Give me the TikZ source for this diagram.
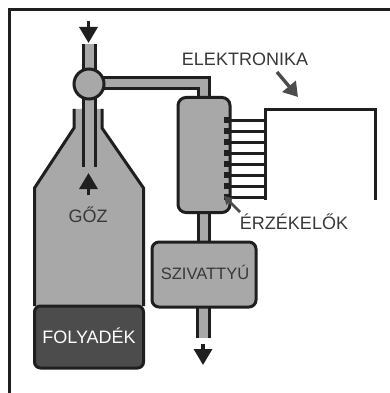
\documentclass[tikz,border=0pt]{standalone}
\usepackage{fontspec}
\setmainfont{Liberation Sans}
\usetikzlibrary{arrows.meta}
\definecolor{fillg}{gray}{0.66}
\definecolor{liq}{gray}{0.30}
\definecolor{ink}{gray}{0.12}
\definecolor{txt}{gray}{0.22}
\tikzset{
  wall/.style={draw=ink,line width=3pt},
  gfill/.style={fill=fillg,draw=none},
  bigarrow/.style={draw=ink,line width=3.4pt,-{Triangle[width=18pt,length=16pt]}},
  lblarrow/.style={draw=liq,line width=3.4pt,-{Triangle[width=17pt,length=14pt]}},
  thinarrow/.style={draw=liq,line width=2.8pt,-{Triangle[width=9pt,length=8pt]}},
  lbl/.style={text=txt,font=\fontsize{18pt}{19pt}\selectfont,inner sep=0pt},
}
\begin{document}
\begin{tikzpicture}[x=1pt,y=-1pt]
\useasboundingbox (0,0) rectangle (390,393);
\fill[white] (0,0) rectangle (390,393);
% frame
\coordinate (fb) at (9,393);
\coordinate (ft) at (9,10);
\coordinate (fr) at (390,10);
\draw[ink,line width=3pt] (fb) -- (ft) -- (fr);
% flask
\path[gfill] (74,109) -- (102,109) -- (102,128) -- (143.5,188) -- (143.5,306) -- (34.5,306) -- (34.5,188) -- (74,128) -- cycle;
\draw[wall] (74,109) -- (74,128) -- (34.5,188) -- (34.5,306);
\draw[wall] (102,109) -- (102,128) -- (143.5,188) -- (143.5,306);
% liquid
\node[draw=ink,line width=3pt,fill=liq,rounded corners=6pt,minimum width=109pt,minimum height=62pt,inner sep=0pt] (liquid) at (89,337) {};
\node[text=white,font=\fontsize{18pt}{19pt}\selectfont,inner sep=0pt] (folyadek) at (89,336) {FOLYADÉK};
\node[lbl] (goz) at (88,215) {GŐZ};
% pipes
\path[gfill] (83,44) rectangle (95,70);
\draw[wall] (83,44) -- (83,70) (95,44) -- (95,70);
\path[gfill] (83,95) rectangle (95,167);
\draw[wall] (83,95) -- (83,167) (95,95) -- (95,167);
\path[gfill] (100,78) -| (209,100) -- (198,100) |- (100,89) -- cycle;
\draw[wall] (100,78) -| (209,100);
\draw[wall] (100,89) -| (198,100);
\node[draw=ink,line width=3pt,fill=fillg,circle,minimum size=30pt,inner sep=0pt] (valve) at (89,84) {};
% column
\path[gfill] (198,210) rectangle (209,245);
\draw[wall] (198,210) -- (198,245) (209,210) -- (209,245);
\node[draw=ink,line width=3pt,fill=fillg,rounded corners=8pt,minimum width=52pt,minimum height=115pt,inner sep=0pt] (column) at (204,155) {};
% pump
\path[gfill] (197,305) rectangle (209,338);
\draw[wall] (197,305) -- (197,338) (209,305) -- (209,338);
\node[draw=ink,line width=3pt,fill=fillg,rounded corners=7pt,minimum width=104pt,minimum height=65pt,inner sep=0pt] (pump) at (204,274.5) {};
\node[lbl,font=\fontsize{16.5pt}{17pt}\selectfont] (szivattyu) at (205,272) {SZIVATTYÚ};
% arrows
\coordinate (inA) at (88.5,21);
\coordinate (inB) at (88.5,43);
\coordinate (upA) at (88.5,195);
\coordinate (upB) at (88.5,173);
\coordinate (outA) at (203,344);
\coordinate (outB) at (203,365);
\draw[bigarrow] (inA) -- (inB);
\draw[bigarrow] (upA) -- (upB);
\draw[bigarrow] (outA) -- (outB);
% electronics
\draw[wall,miter limit=10] (265,200) -- (265,110) -- (375,110) -- (375,200);
\foreach \y in {120,131,142,153,164,175,186,197}{
  \draw[ink,line width=3pt] (226,\y) -- (265,\y);
  \fill[ink] (224,\y-3) rectangle (230,\y+3);
}
% labels
\node[lbl] (elektronika) at (245,59) {ELEKTRONIKA};
\node[lbl] (erzekelok) at (294,222) {ÉRZÉKELŐK};
\coordinate (elA) at (277,72);
\coordinate (elB) at (298,97);
\coordinate (erA) at (240,212);
\coordinate (erB) at (224,196);
\draw[lblarrow] (elA) -- (elB);
\draw[thinarrow] (erA) -- (erB);
\end{tikzpicture}
\end{document}
